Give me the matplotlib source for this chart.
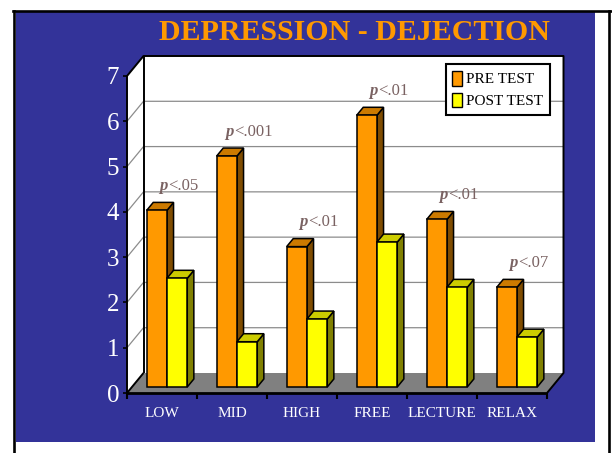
import matplotlib
matplotlib.use("Agg")
import matplotlib.pyplot as plt
from matplotlib.patches import Polygon, Rectangle, Patch
from matplotlib.lines import Line2D

# ---- data -------------------------------------------------------------
categories = ["LOW", "MID", "HIGH", "FREE", "LECTURE", "RELAX"]
pre_test = [3.9, 5.1, 3.1, 6.0, 3.7, 2.2]
post_test = [2.4, 1.0, 1.5, 3.2, 2.2, 1.1]
p_values = ["<.05", "<.001", "<.01", "<.01", "<.01", "<.07"]
y_ticks = [0, 1, 2, 3, 4, 5, 6, 7]
series_names = ["PRE TEST", "POST TEST"]
title = "DEPRESSION - DEJECTION"

# ---- style --------------------------------------------------------------
SERIF = "Liberation Serif"
BLUE = "#333399"
ORANGE = ("#FF9900", "#CC7A00", "#7F4C00")   # front, top, side
YELLOW = ("#FFFF00", "#CCCC00", "#808000")
FLOOR = "#808080"
GRID = "#8c8c8c"
PCOL = "#7a6262"

W, H = 612, 453
fig = plt.figure(figsize=(W / 100, H / 100), dpi=100)
fig.patch.set_facecolor("white")

# slide panel and its frame lines
fig.patches.append(Rectangle((16 / W, 1 - 442 / H), (595 - 16) / W, (442 - 12) / H,
                             transform=fig.transFigure, facecolor=BLUE,
                             edgecolor="none", zorder=-2))
for xs, ys in [([13.5, 13.5], [11, 453]), ([13, 612], [11, 11]), ([609, 609], [11, 453])]:
    fig.add_artist(Line2D([x / W for x in xs], [1 - y / H for y in ys],
                          transform=fig.transFigure, color="black", lw=1.9, zorder=-1))

fig.text(354 / W, 1 - 32 / H, title, ha="center", va="center", fontsize=21.5,
         fontweight="bold", color="#FF9900", family=SERIF)

# front plane of the 3-D box
ax = fig.add_axes([127 / W, 60 / H, 420 / W, 317 / H])
ax.set_facecolor("none")
n = len(categories)
ymax = y_ticks[-1]
ax.set_xlim(0, n)
ax.set_ylim(0, ymax)

# depth offsets (full depth of the box) in data units
DX = 16.5 / 70.0
DY = 20.0 / 45.29


def P(x, y, d):
    return (x + d * DX, y + d * DY)


def poly(pts, fc, ec="black", lw=1.0, z=1):
    ax.add_patch(Polygon(pts, closed=True, facecolor=fc, edgecolor=ec, lw=lw,
                         zorder=z, clip_on=False, joinstyle="miter"))


def line(pts, color="black", lw=1.0, z=2):
    xs, ys = zip(*pts)
    ax.add_line(Line2D(xs, ys, color=color, lw=lw, zorder=z, clip_on=False,
                       solid_capstyle="butt"))


# walls
poly([P(0, 0, 0), P(0, ymax, 0), P(0, ymax, 1), P(0, 0, 1)], "white", ec="none", z=0.5)
poly([P(0, 0, 1), P(n, 0, 1), P(n, ymax, 1), P(0, ymax, 1)], "white", ec="none", z=0.5)

# gridlines on side and back walls
for v in y_ticks[1:-1]:
    line([P(0, v, 0), P(0, v, 1), P(n, v, 1)], color=GRID, lw=0.9, z=0.8)

# floor
poly([P(0, 0, 0), P(n, 0, 0), P(n, 0, 1), P(0, 0, 1)], FLOOR, ec="none", z=0.9)

# box edges
line([P(0, 0, 0), P(0, ymax, 0), P(0, ymax, 1), P(n, ymax, 1), P(n, 0, 1), P(n, 0, 0)],
     lw=1.4, z=1.5)
line([P(0, 0, 1), P(0, ymax, 1)], lw=1.4, z=1.5)
line([P(0, 0, 0), P(0, 0, 1)], lw=1.4, z=1.5)
line([P(0, 0, 0), P(n, 0, 0)], lw=2.0, z=3)

# bars
BW = 0.29
D0, D1 = 0.30, 0.70


def bar3d(x0, x1, v, cols):
    side = [P(x1, 0, D0), P(x1, 0, D1), P(x1, v, D1), P(x1, v, D0)]
    top = [P(x0, v, D0), P(x1, v, D0), P(x1, v, D1), P(x0, v, D1)]
    front = [P(x0, 0, D0), P(x1, 0, D0), P(x1, v, D0), P(x0, v, D0)]
    poly(side, cols[2], lw=1.1, z=2)
    poly(top, cols[1], lw=1.1, z=2)
    poly(front, cols[0], lw=1.1, z=2)


for i in range(n):
    c = i + 0.5
    bar3d(c - BW, c, pre_test[i], ORANGE)
    bar3d(c, c + BW, post_test[i], YELLOW)

# significance labels, projected onto the back wall above each pair
FS_P = 12
for i in range(n):
    rest = p_values[i]
    rest_w = (0.564 + 0.25 + 0.5 * (len(rest) - 2)) * FS_P
    shift = rest_w / 2 - 0.25 * FS_P
    xc, yc = P(i + 0.5, pre_test[i], 1)
    t = ax.annotate("p", (xc, yc), xytext=(-shift, 7.5), textcoords="offset points",
                    ha="right", va="center", fontsize=FS_P, fontweight="bold",
                    fontstyle="italic", color=PCOL, family=SERIF,
                    annotation_clip=False, zorder=4)
    ax.annotate(rest, xy=(1, 0), xycoords=t, xytext=(0.3, 0), textcoords="offset points",
                ha="left", va="bottom", fontsize=FS_P, color=PCOL, family=SERIF,
                zorder=4)

# axes ticks and labels
for s in ax.spines.values():
    s.set_visible(False)
ax.set_yticks(y_ticks)
ax.set_yticklabels([str(v) for v in y_ticks], family=SERIF, fontsize=18, color="white")
ax.tick_params(axis="y", length=3, width=1.2, color="black", pad=2.5)
ax.set_xticks(range(n + 1))
ax.set_xticklabels([])
ax.tick_params(axis="x", which="major", length=4, width=1.5, color="black")
ax.set_xticks([i + 0.5 for i in range(n)], minor=True)
ax.set_xticklabels(categories, minor=True, family=SERIF, fontsize=11, color="white")
ax.tick_params(axis="x", which="minor", length=0, pad=10)

# legend
handles = [Patch(facecolor=ORANGE[0], edgecolor="black", lw=1.0),
           Patch(facecolor=YELLOW[0], edgecolor="black", lw=1.0)]
leg = fig.legend(handles, series_names, loc="upper right",
                 bbox_to_anchor=(550 / W, 1 - 64 / H), frameon=True, fancybox=False,
                 framealpha=1, edgecolor="black", borderpad=0.45, handlelength=0.6,
                 handleheight=1.1, handletextpad=0.3, labelspacing=0.4,
                 borderaxespad=0, prop={"family": SERIF, "size": 11})
leg.get_frame().set_linewidth(1.5)
leg.set_zorder(5)

fig.savefig("out.png", dpi=100, facecolor="white")
